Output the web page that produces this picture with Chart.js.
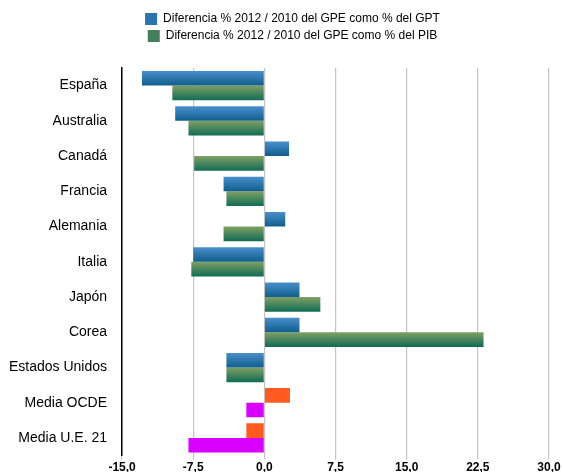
<!DOCTYPE html>
<html>
<head>
<meta charset="utf-8">
<script src="https://cdn.jsdelivr.net/npm/chart.js@4/dist/chart.umd.min.js"></script>
<style>
  html, body { margin: 0; padding: 0; background: #fff; }
  #wrap { width: 563px; height: 472px; }
</style>
</head>
<body>
<div id="wrap"><canvas id="myChart" width="563" height="472"></canvas></div>
<script>
// datos
var paises = ["España", "Australia", "Canadá", "Francia", "Alemania", "Italia", "Japón", "Corea", "Estados Unidos", "Media OCDE", "Media U.E. 21"];
var difGPT = [-12.9, -9.4, 2.6, -4.3, 2.2, -7.5, 3.7, 3.7, -4.0, 2.7, -1.9];
var difPIB = [-9.7, -8.0, -7.4, -4.0, -4.3, -7.7, 5.9, 23.1, -4.0, -1.9, -8.0];
var etiquetas = ["Diferencia % 2012 / 2010 del GPE como % del GPT", "Diferencia % 2012 / 2010 del GPE como % del PIB"];
var ticksX = [-15, -7.5, 0, 7.5, 15, 22.5, 30];
var nMedias = 2; // las dos ultimas filas van en otro color

var catPct = 0.83;

// degradado vertical por barra
function degradado(context, arriba, abajo, especial) {
    var chart = context.chart;
    var i = context.dataIndex;
    if (i >= paises.length - nMedias) return especial;
    var y = chart.scales.y;
    if (!y || y.getPixelForValue(0) == null) return arriba;
    var banda = y.getPixelForValue(1) - y.getPixelForValue(0);
    var h = banda * catPct / 2;
    var centro = y.getPixelForValue(i);
    var top = context.datasetIndex == 0 ? centro - h : centro;
    var g = chart.ctx.createLinearGradient(0, top, 0, top + h);
    g.addColorStop(0, arriba);
    g.addColorStop(1, abajo);
    return g;
}

// espacio extra bajo la leyenda y leyenda algo mas a la derecha
var ajusteLeyenda = {
    id: "ajusteLeyenda",
    beforeInit: function (chart) {
        var fit = chart.legend.fit;
        chart.legend.fit = function () {
            fit.bind(chart.legend)();
            this.height += 16;
        };
    },
    beforeDraw: function (chart) {
        if (!chart.legend._movido) {
            chart.legend.left += 17;
            chart.legend.right += 17;
            chart.legend._movido = true;
        }
    },
    afterUpdate: function (chart) {
        chart.legend._movido = false;
    }
};

Chart.defaults.font.family = "'Liberation Sans', Helvetica, Arial, sans-serif";
Chart.defaults.color = "#000";

var ctx = document.getElementById("myChart").getContext("2d");
var myChart = new Chart(ctx, {
    type: "bar",
    data: {
        labels: paises,
        datasets: [
            {
                label: etiquetas[0],
                data: difGPT,
                backgroundColor: function (c) { return degradado(c, "#4a8fcc", "#0f5e8c", "#ff5a1f"); },
                borderWidth: 0
            },
            {
                label: etiquetas[1],
                data: difPIB,
                backgroundColor: function (c) { return degradado(c, "#80a064", "#106c55", "#d800ff"); },
                borderWidth: 0
            }
        ]
    },
    plugins: [ajusteLeyenda],
    options: {
        indexAxis: "y",
        responsive: false,
        animation: false,
        layout: { padding: { left: 2, right: 14, top: 8, bottom: -4 } },
        datasets: {
            bar: { categoryPercentage: catPct, barPercentage: 1 }
        },
        plugins: {
            tooltip: { enabled: false },
            legend: {
                position: "top",
                labels: {
                    boxWidth: 12,
                    boxHeight: 12,
                    padding: 5,
                    font: { size: 12 },
                    generateLabels: function (chart) {
                        var colores = ["#2a75ad", "#457f5c"];
                        return etiquetas.map(function (t, k) {
                            return { text: t, fillStyle: colores[k], strokeStyle: colores[k], lineWidth: 0, datasetIndex: k };
                        });
                    }
                }
            }
        },
        scales: {
            x: {
                min: -15,
                max: 30,
                afterBuildTicks: function (axis) {
                    axis.ticks = ticksX.map(function (v) { return { value: v }; });
                },
                grid: {
                    color: "#c4c4c4",
                    lineWidth: 1.2,
                    tickLength: 4,
                    drawTicks: true
                },
                border: { display: false },
                ticks: {
                    font: { size: 12, weight: "bold" },
                    padding: 1,
                    maxRotation: 0,
                    callback: function (v) { return Number(v).toFixed(1).replace(".", ","); }
                }
            },
            y: {
                grid: { display: false },
                border: { display: true, color: "#000", width: 1.5 },
                ticks: {
                    font: { size: 14 },
                    padding: 7
                }
            }
        }
    }
});
</script>
</body>
</html>
